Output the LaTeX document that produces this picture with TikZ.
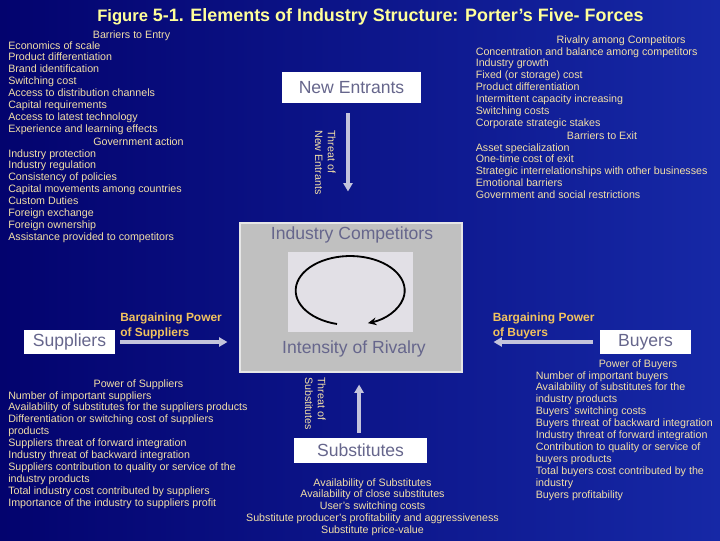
\documentclass[tikz,border=0pt]{standalone}
\usepackage{fontspec}
\setmainfont{Liberation Sans}
\usetikzlibrary{arrows.meta}
\usepackage{xcolor}
\definecolor{PorterNavyDark}{HTML}{03036E}
\definecolor{PorterNavyLight}{HTML}{1628A6}
\definecolor{PorterTitle}{HTML}{FFFF99}
\definecolor{PorterText}{HTML}{F2DFA7}
\definecolor{PorterGold}{HTML}{F2C35E}
\definecolor{PorterBoxText}{HTML}{66668C}
\definecolor{PorterArrow}{HTML}{C4C4DC}
\definecolor{PorterGray}{HTML}{C0C0C0}
\definecolor{PorterInner}{HTML}{E2E0E6}
\tikzset{
    % Box styles
    forcebox/.style={
        rectangle,
        fill=white,
        inner sep=0pt,
        text=PorterBoxText,
        font=\fontsize{12.5}{15}\selectfont
    },
    industry/.style={
        rectangle,
        fill=PorterGray,
        draw=PorterGray!40!white,
        line width=0.8pt,
        inner sep=0pt
    },
    rivalrybox/.style={
        rectangle,
        fill=PorterInner,
        inner sep=0pt
    },
    boxlabel/.style={
        inner sep=0pt,
        text=PorterBoxText,
        font=\fontsize{12.5}{15}\selectfont
    },
    % Text styles
    title/.style={
        anchor=base west,
        inner sep=0pt,
        text=PorterTitle,
        font=\fontsize{12.75}{15}\selectfont\bfseries
    },
    listtext/.style={
        anchor=north west,
        align=left,
        inner sep=0pt,
        text=PorterText,
        font=\fontsize{7.6}{8.5}\selectfont
    },
    heading/.style={
        anchor=base,
        inner sep=0pt,
        text=PorterText,
        font=\fontsize{7.6}{8.5}\selectfont
    },
    bargain/.style={
        anchor=north west,
        align=left,
        inner sep=0pt,
        text=PorterGold,
        font=\fontsize{8.5}{10.6}\selectfont\bfseries
    },
    threat/.style={
        anchor=north west,
        align=left,
        rotate=-90,
        inner sep=0pt,
        text=PorterText,
        font=\fontsize{7.6}{9.2}\selectfont
    },
    % Arrow styles
    force/.style={
        -{Triangle[length=6pt,width=6.5pt]},
        line width=2.8pt,
        draw=PorterArrow
    },
    rivalry/.style={
        -{Stealth[length=6pt,width=5.5pt]},
        line width=1.3pt,
        draw=black
    }
}
\begin{document}
\begin{tikzpicture}[x=0.025cm, y=-0.025cm]
    % Background
    \shade[left color=PorterNavyDark, right color=PorterNavyLight] (0,0) rectangle (720,540);

    % Title
    \node[title] (title) at (97,21) {{\fontsize{11.8}{14}\selectfont Figure} 5-1. Elements of Industry Structure: Porter’s Five- Forces};

    % Five forces
    \node[forcebox, minimum width=3.475cm, minimum height=0.775cm] (ne) at (351.5,87.5) {New Entrants};
    \node[industry, minimum width=5.55cm, minimum height=3.725cm] (ind) at (351,297.5) {};
    \node[rivalrybox, minimum width=3.125cm, minimum height=2cm] (inner) at (350.5,292) {};
    \node[boxlabel] (indtop) at (352,235) {Industry Competitors};
    \node[boxlabel] (indbot) at (354,349) {Intensity of Rivalry};
    \node[forcebox, minimum width=2.275cm, minimum height=0.6cm] (sup) at (69.5,342) {Suppliers};
    \node[forcebox, minimum width=2.275cm, minimum height=0.6cm] (buy) at (645.5,342) {Buyers};
    \node[forcebox, minimum width=3.325cm, minimum height=0.625cm] (sub) at (360.5,450.5) {Substitutes};

    % Arrows
    \draw[force, shorten <=7pt, shorten >=22pt] ([xshift=-2.5pt]ne.south) -- ([xshift=-2.5pt]ne.south |- ind.north);
    \draw[force, shorten <=3.6pt, shorten >=8.5pt] (sup.east) -- (sup.east -| ind.west);
    \draw[force, shorten <=5pt, shorten >=22pt] (buy.west) -- (buy.west -| ind.east);
    \draw[force, shorten <=3.6pt, shorten >=8.5pt] ([xshift=-1pt]sub.north) -- ([xshift=-1pt]sub.north |- ind.south);
    \draw[rivalry] (337,324) arc[start angle=104, end angle=431, x radius=54.5, y radius=34.5];

    % Arrow labels
    \node[threat] (threatne) at (336,130) {Threat of\\New Entrants};
    \node[threat] (threatsub) at (326,377) {Threat of\\Substitutes};
    \node[bargain] (bpsup) at (120,312.5) {Bargaining Power\\of Suppliers};
    \node[bargain] (bpbuy) at (492.5,312.5) {Bargaining Power\\of Buyers};

    % Barriers to entry
    \node[heading] (entryhead) at (131.5,38) {Barriers to Entry};
    \node[listtext] (entry) at (8,41) {Economics of scale\\Product differentiation\\Brand identification\\Switching cost\\Access to distribution channels\\Capital requirements\\Access to latest technology\\Experience and learning effects};
    \node[heading] (govhead) at (138.5,145) {Government action};
    \node[listtext] (gov) at (8,149) {Industry protection\\Industry regulation\\Consistency of policies\\Capital movements among countries\\Custom Duties\\Foreign exchange\\Foreign ownership\\Assistance provided to competitors};

    % Rivalry
    \node[heading] (rivalhead) at (621,43) {Rivalry among Competitors};
    \node[listtext] (rival) at (475.5,47) {Concentration and balance among competitors\\Industry growth\\Fixed (or storage) cost\\Product differentiation\\Intermittent capacity increasing\\Switching costs\\Corporate strategic stakes};
    \node[heading] (exithead) at (602,139) {Barriers to Exit};
    \node[listtext] (exit) at (475.5,143) {Asset specialization\\One-time cost of exit\\Strategic interrelationships with other businesses\\Emotional barriers\\Government and social restrictions};

    % Suppliers
    \node[heading] (suphead) at (138.5,387) {Power of Suppliers};
    \node[listtext] (suplist) at (8,391) {Number of important suppliers\\Availability of substitutes for the suppliers products\\Differentiation or switching cost of suppliers\\products\\Suppliers threat of forward integration\\Industry threat of backward integration\\Suppliers contribution to quality or service of the\\industry products\\Total industry cost contributed by suppliers\\Importance of the industry to suppliers profit};

    % Buyers
    \node[heading] (buyhead) at (638,367) {Power of Buyers};
    \node[listtext] (buylist) at (535.5,371) {Number of important buyers\\Availability of substitutes for the\\industry products\\Buyers' switching costs\\Buyers threat of backward integration\\Industry threat of forward integration\\Contribution to quality or service of\\buyers products\\Total buyers cost contributed by the\\industry\\Buyers profitability};

    % Substitutes
    \node[listtext, anchor=north, align=center] (sublist) at (372.5,478) {Availability of Substitutes\\Availability of close substitutes\\User's switching costs\\Substitute producer's profitability and aggressiveness\\Substitute price-value};
\end{tikzpicture}
\end{document}
